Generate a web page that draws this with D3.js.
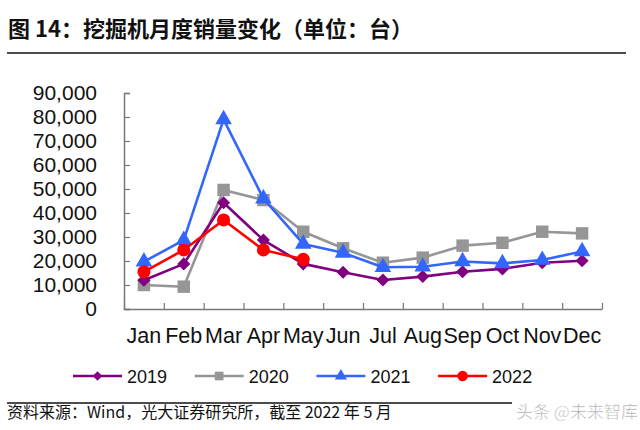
<!DOCTYPE html>
<html><head><meta charset="utf-8">
<script src="https://cdn.jsdelivr.net/npm/d3@7"></script>
<style>body{margin:0;background:#fff}svg{display:block}</style>
</head><body>
<svg id="c" width="640" height="430"></svg>
<script>
const months = ["Jan","Feb","Mar","Apr","May","Jun","Jul","Aug","Sep","Oct","Nov","Dec"];
const s2019 = [12000,18800,44300,28700,18800,15300,12100,13500,15500,16700,19300,20100];
const s2020 = [10000,9300,49600,45400,32200,25300,19300,21400,26400,27600,32200,31500];
const s2021 = [19700,28700,79000,46000,27100,23400,17400,17600,19800,19000,20400,24000];
const s2022 = [15500,24600,37100,24600,20700];
const yTicks = [0,10000,20000,30000,40000,50000,60000,70000,80000,90000];
const seriesNames = ["2019","2020","2021","2022"];
const title = "图 14：挖掘机月度销量变化（单位：台）";
const source = "资料来源：Wind，光大证券研究所，截至 2022 年 5 月";
const watermark = "头条 @未来智库";

const svg = d3.select("#c");
svg.append("rect").attr("width",640).attr("height",430).attr("fill","#fff");

const L=124, R=602, T=93, B=309;
const x = d3.scaleBand().domain(months).range([L,R]).padding(0);
const y = d3.scaleLinear().domain([0,90000]).range([B,T]);
const xb = d3.scaleLinear().domain([0,months.length]).range([L,R]);

const cjk = "'Noto Sans CJK SC','Noto Sans',sans-serif";
const latin = "'Liberation Sans',Arial,sans-serif";

// title
svg.append("text").attr("x",8).attr("y",37).attr("font-family",cjk).attr("font-weight","bold")
  .attr("font-size",22).attr("fill","#111").text(title);
svg.append("line").attr("x1",7).attr("x2",626).attr("y1",53).attr("y2",53).attr("stroke","#111").attr("stroke-width",1.6);

// axes
const axisColor="#777";
const gy = svg.append("g").attr("transform",`translate(${L},0)`)
  .call(d3.axisLeft(y).tickValues(yTicks).tickFormat(d3.format(",")).tickSize(-6).tickPadding(27));
gy.select(".domain").attr("stroke",axisColor).attr("stroke-width",1.5);
gy.selectAll(".tick line").attr("stroke",axisColor).attr("stroke-width",1.2);
gy.selectAll("text").attr("font-family",latin).attr("font-size",21).attr("fill","#111");

const gx = svg.append("g").attr("transform",`translate(0,${B})`)
  .call(d3.axisBottom(xb).tickValues(d3.range(months.length+1)).tickFormat("").tickSize(-6).tickSizeOuter(0));
gx.select(".domain").attr("stroke",axisColor).attr("stroke-width",1.5);
gx.selectAll(".tick line").attr("stroke",axisColor).attr("stroke-width",1.2);

const gxl = svg.append("g").attr("transform",`translate(0,${B})`)
  .call(d3.axisBottom(x).tickSize(0).tickPadding(19));
gxl.select(".domain").remove();
gxl.selectAll("text").attr("font-family",latin).attr("font-size",21.5).attr("fill","#111");

// series
const series = [
  {name:"2020", data:s2020, color:"#969696", sym:d3.symbolSquare, size:155, rot:0},
  {name:"2019", data:s2019, color:"#800080", sym:d3.symbolSquare, size:85, rot:45},
  {name:"2021", data:s2021, color:"#3366FF", sym:d3.symbolTriangle, size:120, rot:0},
  {name:"2022", data:s2022, color:"#FF0000", sym:d3.symbolCircle, size:135, rot:0},
];
const cx = m => x(m)+x.bandwidth()/2;
const line = d3.line().x((d,i)=>cx(months[i])).y(d=>y(d));
series.forEach(s=>{
  const g = svg.append("g");
  g.append("path").attr("d",line(s.data)).attr("fill","none").attr("stroke",s.color).attr("stroke-width",2.6).attr("stroke-linejoin","round");
  g.selectAll("path.m").data(s.data).enter().append("path").attr("class","m")
    .attr("d",d3.symbol().type(s.sym).size(s.size))
    .attr("transform",(d,i)=>`translate(${cx(months[i])},${y(d)}) rotate(${s.rot})`)
    .attr("fill",s.color);
});

// legend
const legendStyle = {
  "2019":{color:"#800080", sym:d3.symbolSquare, size:45, rot:45},
  "2020":{color:"#969696", sym:d3.symbolSquare, size:75, rot:0},
  "2021":{color:"#3366FF", sym:d3.symbolTriangle, size:65, rot:0},
  "2022":{color:"#FF0000", sym:d3.symbolCircle, size:85, rot:0},
};
seriesNames.forEach((n,i)=>{
  const st = legendStyle[n];
  const x0 = 73 + i*121.7, ly = 376;
  const g = svg.append("g");
  g.append("line").attr("x1",x0).attr("x2",x0+49).attr("y1",ly).attr("y2",ly).attr("stroke",st.color).attr("stroke-width",2.6);
  g.append("path").attr("d",d3.symbol().type(st.sym).size(st.size)).attr("transform",`translate(${x0+24.5},${ly}) rotate(${st.rot})`).attr("fill",st.color);
  g.append("text").attr("x",x0+54).attr("y",ly+6.5).attr("font-family",latin).attr("font-size",18).attr("fill","#111").text(n);
});

// source
svg.append("line").attr("x1",7).attr("x2",512).attr("y1",403).attr("y2",403).attr("stroke","#111").attr("stroke-width",1.6);
svg.append("text").attr("x",7).attr("y",418).attr("font-family",cjk).attr("font-size",16).attr("fill","#111").text(source);
svg.append("text").attr("x",516).attr("y",418).attr("font-family",cjk).attr("font-size",17).attr("fill","#aaa")
  .attr("stroke","#fff").attr("stroke-width",0.5).text(watermark);
</script>
</body></html>
